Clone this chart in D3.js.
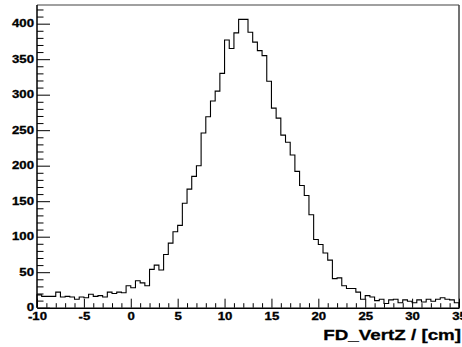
<!DOCTYPE html>
<html>
<head>
<meta charset="utf-8">
<script src="https://cdn.jsdelivr.net/npm/d3@7"></script>
<style>
  body { margin: 0; background: #fff; }
  svg { display: block; }
  text { font-family: "Liberation Sans", Arial, sans-serif; font-weight: bold; fill: #000; }
</style>
</head>
<body>
<svg width="462" height="347"></svg>
<script>
// histogram: 90 bins of 0.5 cm from -10 to 35
const binLow = -10;
const binWidth = 0.5;
const counts = [
    18, 16, 16, 16, 22, 15, 16, 15, 12, 15,
    14, 19, 16, 17, 15, 22, 20, 22, 21, 31,
    28, 38, 35, 31, 54, 60, 53, 75, 91, 107,
    116, 147, 167, 185, 200, 246, 269, 291, 305, 330,
    377, 365, 387, 406, 406, 388, 374, 362, 355, 319,
    281, 267, 243, 233, 215, 192, 172, 158, 131, 96,
    89, 77, 67, 41, 42, 31, 27, 27, 22, 12,
    17, 15, 10, 12, 6, 11, 12, 7, 11, 9,
    7, 11, 8, 12, 9, 12, 14, 12, 11, 7
];
const xMajorTicks = [-10, -5, 0, 5, 10, 15, 20, 25, 30, 35];
const yMajorTicks = [0, 50, 100, 150, 200, 250, 300, 350, 400];
const xTitle = "FD_VertZ / [cm]";

const svg = d3.select("svg");
const padL = 37, padR = 459, padT = 5, padB = 307.7;
const stretch = 1.32;

const x = d3.scaleLinear().domain([-10, 35]).range([padL, padR]);
const y = d3.scaleLinear().domain([0, 406 * 1.05]).range([padB, padT]);

svg.append("rect").attr("width", 462).attr("height", 347).attr("fill", "#fff");

// frame top/right
svg.append("line").attr("x1", padL).attr("x2", padR).attr("y1", padT).attr("y2", padT)
    .attr("stroke", "#808080").attr("stroke-width", 1.5);
svg.append("line").attr("x1", padR).attr("x2", padR).attr("y1", padT).attr("y2", padB)
    .attr("stroke", "#444").attr("stroke-width", 1.5);

// step outline of the histogram
const pts = [[x(binLow), y(0)]];
counts.forEach((c, i) => {
    const x0 = x(binLow + i * binWidth);
    const x1 = x(binLow + (i + 1) * binWidth);
    pts.push([x0, y(c)], [x1, y(c)]);
});
pts.push([x(binLow + counts.length * binWidth), y(0)]);
svg.append("path")
    .attr("d", d3.line()(pts))
    .attr("fill", "none")
    .attr("stroke", "#000")
    .attr("stroke-width", 1.1);

// x axis
const xMinor = d3.range(-10, 36, 1).filter(v => v % 5 !== 0);
svg.append("g").attr("transform", `translate(0,${padB})`)
    .call(d3.axisBottom(x).tickValues(xMinor).tickSize(-4.5).tickFormat(""))
    .call(g => g.select(".domain").remove());
const gx = svg.append("g").attr("transform", `translate(0,${padB})`)
    .call(d3.axisBottom(x).tickValues(xMajorTicks).tickSizeInner(-9).tickSizeOuter(0)
        .tickFormat(d => String(d)));
gx.select(".domain").attr("stroke", "#000").attr("stroke-width", 1.5);
gx.selectAll("text")
    .attr("y", 5)
    .attr("font-size", 10)
    .attr("transform", `scale(${stretch},1)`);

// y axis
const yMinor = d3.range(0, 421, 10).filter(v => v % 50 !== 0);
svg.append("g").attr("transform", `translate(${padL},0)`)
    .call(d3.axisLeft(y).tickValues(yMinor).tickSize(-6.5).tickFormat(""))
    .call(g => g.select(".domain").remove());
const gy = svg.append("g").attr("transform", `translate(${padL},0)`)
    .call(d3.axisLeft(y).tickValues(yMajorTicks).tickSizeInner(-13).tickSizeOuter(0));
gy.select(".domain").attr("stroke", "#000").attr("stroke-width", 1.5)
    .attr("d", `M0,${padB}V${padT}`);
gy.selectAll("text")
    .attr("x", -3 / stretch)
    .attr("font-size", 10)
    .attr("transform", `scale(${stretch},1)`);

svg.selectAll(".tick line").attr("stroke", "#000");
svg.selectAll(".tick text").attr("fill", "#000").attr("font-weight", "bold")
    .attr("stroke", "#000").attr("stroke-width", 0.3)
    .attr("font-family", "Liberation Sans, Arial, sans-serif");

// axis title
svg.append("text")
    .attr("transform", `translate(461,339.5) scale(1.22,1)`)
    .attr("text-anchor", "end")
    .attr("font-size", 15.4)
    .attr("stroke", "#000").attr("stroke-width", 0.3)
    .text(xTitle);
</script>
</body>
</html>
